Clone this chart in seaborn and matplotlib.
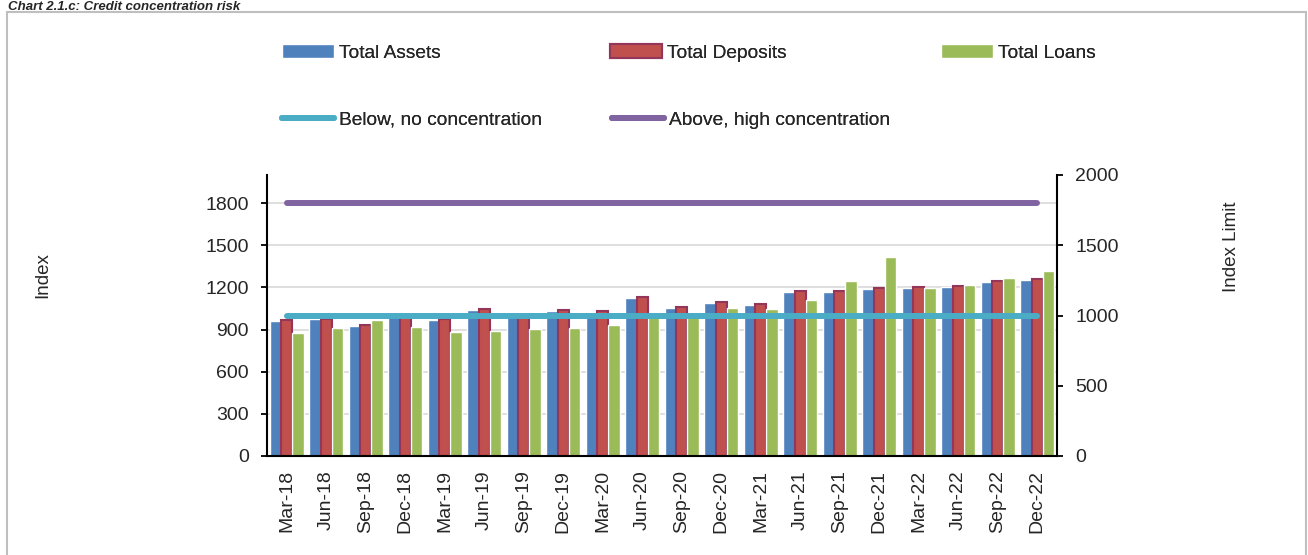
import numpy as np
import pandas as pd
import matplotlib
matplotlib.use("Agg")
import matplotlib.pyplot as plt
from matplotlib.patches import Patch, Rectangle
from matplotlib.lines import Line2D
import seaborn as sns

# data
quarters = ["Mar-18", "Jun-18", "Sep-18", "Dec-18", "Mar-19", "Jun-19", "Sep-19", "Dec-19",
            "Mar-20", "Jun-20", "Sep-20", "Dec-20", "Mar-21", "Jun-21", "Sep-21", "Dec-21",
            "Mar-22", "Jun-22", "Sep-22", "Dec-22"]
total_assets = [961, 973, 927, 997, 970, 1039, 995, 1030, 1025, 1122,
                1051, 1089, 1072, 1170, 1165, 1186, 1198, 1203, 1236, 1255]
total_deposits = [968, 977, 935, 1003, 975, 1048, 1000, 1037, 1032, 1129,
                  1058, 1096, 1079, 1177, 1172, 1193, 1203, 1208, 1243, 1262]
total_loans = [873, 913, 966, 916, 880, 890, 902, 913, 935, 998,
               1000, 1051, 1046, 1110, 1245, 1414, 1198, 1217, 1265, 1319]
below_limit = [1000] * len(quarters)
above_limit = [1800] * len(quarters)

series = ["Total Assets", "Total Deposits", "Total Loans"]
colors = {"Total Assets": "#4F81BD", "Total Deposits": "#C0504D", "Total Loans": "#9BBB59"}

df = pd.DataFrame({
    "Quarter": quarters * 3,
    "Series": np.repeat(series, len(quarters)),
    "Value": total_assets + total_deposits + total_loans,
})

sns.set_style("white")
plt.rcParams["font.family"] = ["Liberation Sans", "DejaVu Sans"]

fig = plt.figure(figsize=(13.08, 5.55), dpi=100)
ax = fig.add_axes([267 / 1308, 99 / 555, 790 / 1308, 281 / 555])

sns.barplot(data=df, x="Quarter", y="Value", hue="Series", palette=colors,
            width=0.85, saturation=1, errorbar=None, legend=False, ax=ax)
for bar in ax.containers[1]:
    bar.set_edgecolor("#93365A")
    bar.set_linewidth(1.5)

ax.set_xlim(-0.5, len(quarters) - 0.5)
ax.set_ylim(0, 2000)
ax.set_yticks(range(0, 1801, 300))
ax.set_axisbelow(True)
ax.grid(axis="y", color="#D9D9D9", lw=1.2)
ax.set_xlabel("")
ax.set_ylabel("")
ax.set_xticks(range(len(quarters)))
ax.set_xticklabels(quarters, rotation=90)
ax.set_xticks(np.arange(-0.5, len(quarters), 1), minor=True)
ax.tick_params(axis="x", which="major", length=0, pad=10, labelsize=14)
ax.tick_params(axis="x", which="minor", length=4, width=1.3, color="black", direction="out")
ax.tick_params(axis="y", length=4, width=1.3, color="black", direction="out", pad=9, labelsize=14)

ax2 = ax.twinx()
x = np.arange(len(quarters))
ax2.plot(x, below_limit, color="#4BACC6", lw=4.3, solid_capstyle="round")
ax2.plot(x, above_limit, color="#8064A2", lw=4.3, solid_capstyle="round")
ax2.set_ylim(0, 2000)
ax2.set_yticks(range(0, 2001, 500))
ax2.tick_params(axis="y", length=4, width=1.3, color="black", direction="out", pad=9, labelsize=14)

for a in (ax, ax2):
    a.spines["top"].set_visible(False)
    for s in ("left", "right", "bottom"):
        a.spines[s].set_color("black")
        a.spines[s].set_linewidth(1.5)
ax.spines["right"].set_visible(False)
ax2.spines["left"].set_visible(False)
ax2.spines["bottom"].set_visible(False)

fig.text(43 / 1308, 1 - 275 / 555, "Index", rotation=90, ha="center", va="center", fontsize=13.5)
fig.text(1232 / 1308, 1 - 247 / 555, "Index Limit", rotation=90, ha="center", va="center", fontsize=13.5)

# legend entries placed like the original grid
entries = [
    (Patch(facecolor="#4F81BD"), "Total Assets", 282, 53),
    (Patch(facecolor="#C0504D", edgecolor="#93365A", lw=1.5), "Total Deposits", 610, 53),
    (Patch(facecolor="#9BBB59"), "Total Loans", 941, 53),
    (Line2D([], [], color="#4BACC6", lw=4.3, solid_capstyle="round"), "Below, no concentration", 282, 120),
    (Line2D([], [], color="#8064A2", lw=4.3, solid_capstyle="round"), "Above, high concentration", 612, 120),
]
for handle, label, px, py in entries:
    leg = fig.legend([handle], [label], loc="center left",
                     bbox_to_anchor=(px / 1308, 1 - py / 555), frameon=False,
                     fontsize=13.8, handlelength=2.7, handletextpad=0.25,
                     borderpad=0, borderaxespad=0)
    fig.add_artist(leg)

# outer frame and title above it
fig.patches.append(Rectangle((7 / 1308, -0.1), 1299 / 1308, 1.1 - 12 / 555,
                             transform=fig.transFigure, fill=False,
                             edgecolor="#BFBFBF", lw=1.5))
fig.text(8 / 1308, 1 - 0.5 / 555, "Chart 2.1.c: Credit concentration risk",
         fontsize=9.5, fontweight="bold", fontstyle="italic", ha="left", va="top")

fig.savefig("out.png", dpi=100)
